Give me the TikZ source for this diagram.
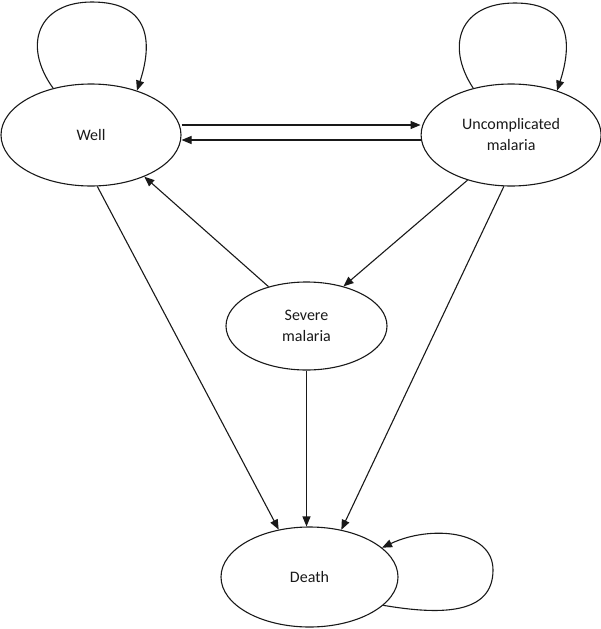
\documentclass[tikz,border=0pt]{standalone}
\usepackage{fontspec}
\setmainfont{Carlito}
\usepackage{tikz}
\usetikzlibrary{arrows.meta,positioning,shapes.geometric}
\definecolor{ink}{RGB}{25,25,25}
\tikzset{
  state/.style={draw=ink,ellipse,line width=1.1pt,inner sep=0pt,
    align=center,text=ink,font=\fontsize{16}{21}\selectfont},
  big/.style={minimum width=180pt,minimum height=102pt},
  arr/.style={-{Triangle[length=10pt,width=8pt]},line width=1.1pt,draw=ink},
}

\begin{document}
\begin{tikzpicture}[x=1pt,y=-1pt]
  \useasboundingbox (0,0) rectangle (600,629);
  \node[state,big] (well) at (91,135) {Well};
  \node[state,big,right=239pt of well] (unc) {Uncomplicated\\malaria};
  \node[state,minimum width=161pt,minimum height=88pt] (sev) at (306.5,326) {Severe\\malaria};
  \node[state,minimum width=177pt,minimum height=100pt] (death) at (309.5,577) {Death};
  \draw[arr] ([yshift=10pt]well.east) -- ([yshift=10pt]unc.west);
  \draw[arr] ([yshift=-5pt]unc.west) -- ([yshift=-5pt]well.east);
  \draw[arr] (sev.134) -- (well.-38);
  \draw[arr] (unc.226) -- (sev.47);
  \draw[arr] (well.-83) -- (death.123);
  \draw[arr] (sev.south) -- (sev.south |- death.north);
  \draw[arr] (unc.262) -- (death.56);
  \draw[arr] (well.129) .. controls (22,45) and (38,2) .. (92,2)
    .. controls (152,2) and (152,45) .. (well.44);
  \draw[arr] (unc.129) .. controls (445,45) and (460,3) .. (515,3)
    .. controls (572,3) and (572,45) .. (unc.44);
  \draw[arr] (death.-21) .. controls (440,615) and (493,615) .. (493,570)
    .. controls (493,530) and (430,525) .. (death.22);
\end{tikzpicture}
\end{document}
